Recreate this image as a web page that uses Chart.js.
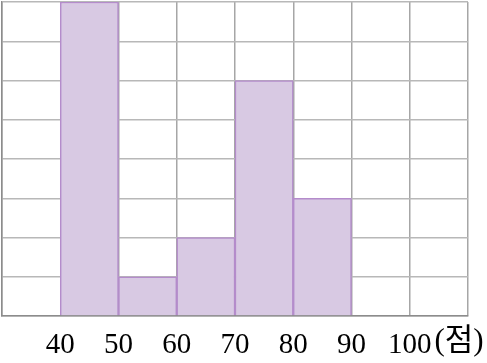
<!DOCTYPE html>
<html>
<head>
<meta charset="utf-8">
<script src="https://cdn.jsdelivr.net/npm/chart.js@4"></script>
<style>
  html, body { margin: 0; padding: 0; background: #fff; }
  #wrap { width: 487px; height: 363px; }
</style>
</head>
<body>
<div id="wrap"><canvas id="myChart"></canvas></div>
<script>
// class midpoints and frequencies (histogram)
let classMids = [45, 55, 65, 75, 85];
let counts = [8, 1, 2, 6, 3];
let tickValues = [40, 50, 60, 70, 80, 90, 100];
let unitLabel = "(점)";

let serif = "'Liberation Serif', 'DejaVu Serif', 'Noto Sans CJK KR', serif";
let labelSize = 29;

// draws the unit next to the last tick label
const unitPlugin = {
  id: "unit",
  afterDraw(chart) {
    let ctx = chart.ctx;
    let x = chart.scales.x;
    ctx.save();
    ctx.font = labelSize + "px " + serif;
    let w = ctx.measureText("100").width;
    ctx.font = "31px " + serif;
    ctx.fillStyle = "#000";
    ctx.textBaseline = "middle";
    ctx.textAlign = "left";
    ctx.fillText(unitLabel, x.getPixelForValue(100) + w / 2 + 3, x.bottom - x.height / 2 + 3);
    ctx.restore();
  }
};

let ctx = document.getElementById("myChart").getContext("2d");

new Chart(ctx, {
  type: "bar",
  data: {
    datasets: [{
      data: classMids.map((m, i) => ({ x: m, y: counts[i] })),
      backgroundColor: "#d8c9e3",
      borderColor: "#b48ccb",
      borderWidth: 1.5,
      barPercentage: 1,
      categoryPercentage: 1
    }]
  },
  options: {
    responsive: true,
    maintainAspectRatio: false,
    animation: false,
    layout: { padding: { left: 2, right: 19, top: 2, bottom: 2 } },
    plugins: { legend: { display: false }, tooltip: { enabled: false } },
    scales: {
      x: {
        type: "linear",
        min: 30,
        max: 110,
        offset: false,
        afterFit: scale => {
          scale.height = 45;
          scale.paddingLeft = 0;
          scale.paddingRight = 0;
        },
        ticks: {
          stepSize: 10,
          padding: 12,
          color: "#000",
          font: { size: labelSize, family: serif },
          maxRotation: 0,
          autoSkip: false,
          callback: v => tickValues.includes(v) ? String(v) : ""
        },
        grid: { offset: false, color: "#a6a6a6", lineWidth: 1.5, drawTicks: false },
        border: { color: "#8c8c8c", width: 1.5 }
      },
      y: {
        min: 0,
        max: 8,
        afterFit: scale => { scale.width = 0; },
        ticks: { stepSize: 1, display: false },
        grid: { color: "#b8b8b8", lineWidth: 1.5, drawTicks: false },
        border: { color: "#8c8c8c", width: 1.5 }
      }
    }
  },
  plugins: [unitPlugin]
});
</script>
</body>
</html>
